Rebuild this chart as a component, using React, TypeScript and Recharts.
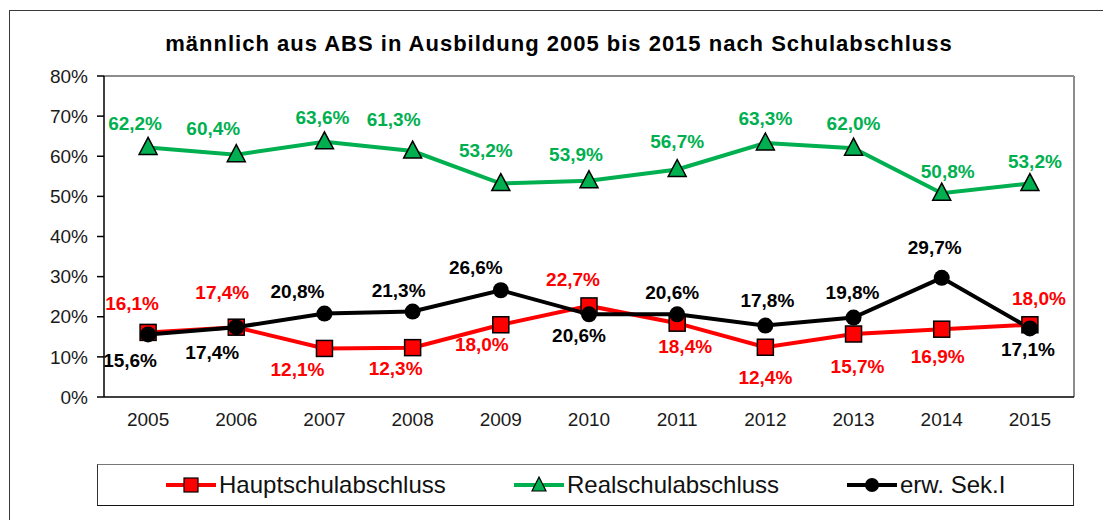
import { LineChart, Line, XAxis, YAxis, ReferenceLine, LabelList } from "recharts";

const YEARS = ["2005", "2006", "2007", "2008", "2009", "2010", "2011", "2012", "2013", "2014", "2015"];
const HAUPT = [16.1, 17.4, 12.1, 12.3, 18.0, 22.7, 18.4, 12.4, 15.7, 16.9, 18.0];
const REAL = [62.2, 60.4, 63.6, 61.3, 53.2, 53.9, 56.7, 63.3, 62.0, 50.8, 53.2];
const ERW = [15.6, 17.4, 20.8, 21.3, 26.6, 20.6, 20.6, 17.8, 19.8, 29.7, 17.1];
const Y_TICKS = [0, 10, 20, 30, 40, 50, 60, 70, 80];

// where each value label sits relative to its marker (dx, dy)
const HAUPT_LABEL_POS = [[-16, -29], [-14, -35], [-27, 21], [-17, 21], [-19, 20], [-16, -26], [8, 23], [0, 30], [4, 32], [-4, 27], [9, -26]];
const REAL_LABEL_POS = [[-13, -24], [-23, -26], [-2, -24], [-19, -32], [-15, -33], [-13, -26], [0, -28], [0, -25], [0, -25], [6, -22], [5, -22]];
const ERW_LABEL_POS = [[-18, 26], [-24, 25], [-27, -22], [-14, -21], [-25, -23], [-10, 21], [-5, -22], [2, -25], [-1, -25], [-7, -30], [-2, 21]];

const RED = "#FF0000";
const GREEN = "#00B050";
const BLACK = "#000000";
const FONT = "'Liberation Sans', Arial, sans-serif";

const INDEX = YEARS.map((_, i) => i);
const BOUNDS = [...INDEX.map((i) => i - 0.5), YEARS.length - 0.5];

const data = YEARS.map((year, i) => ({
  i,
  year,
  haupt: HAUPT[i],
  real: REAL[i],
  erw: ERW[i],
}));

const fmt = (v: number) => `${v.toFixed(1).replace(".", ",")}%`;

const makeLabel = (color: string, pos: number[][]) => (props: any) => {
  const { x, y, value, index } = props;
  const [dx, dy] = pos[index] ?? [0, -24];
  return (
    <text
      x={x + dx}
      y={y + dy}
      textAnchor="middle"
      dominantBaseline="central"
      fill={color}
      fontSize={19}
      fontWeight="bold"
      fontFamily={FONT}
    >
      {fmt(Number(value))}
    </text>
  );
};

const SquareDot = (props: any) => {
  const { cx, cy, index } = props;
  return <rect key={`sq-${index}`} x={cx - 8} y={cy - 8} width={16} height={16} fill={RED} stroke={BLACK} strokeWidth={1.5} />;
};

const TriangleDot = (props: any) => {
  const { cx, cy, index } = props;
  return (
    <polygon
      key={`tr-${index}`}
      points={`${cx},${cy - 10} ${cx + 9},${cy + 7} ${cx - 9},${cy + 7}`}
      fill={GREEN}
      stroke={BLACK}
      strokeWidth={1.5}
    />
  );
};

const CircleDot = (props: any) => {
  const { cx, cy, index } = props;
  return <circle key={`ci-${index}`} cx={cx} cy={cy} r={8} fill={BLACK} />;
};

const LegendItem = ({ left, color, label, marker }: { left: number; color: string; label: string; marker: "square" | "triangle" | "circle" }) => (
  <div style={{ position: "absolute", left, top: 0, height: 40, display: "flex", alignItems: "center" }}>
    <svg width={52} height={24} style={{ display: "block" }}>
      <line x1={1} y1={12} x2={51} y2={12} stroke={color} strokeWidth={4} />
      {marker === "square" && <rect x={19} y={5} width={14} height={14} fill={RED} stroke={BLACK} strokeWidth={1.2} />}
      {marker === "triangle" && <polygon points="26,4 33,18 19,18" fill={GREEN} stroke={BLACK} strokeWidth={1.2} />}
      {marker === "circle" && <circle cx={26} cy={12} r={7} fill={BLACK} />}
    </svg>
    <span style={{ fontSize: 24, color: "#111", marginLeft: 2, whiteSpace: "nowrap" }}>{label}</span>
  </div>
);

export default function App() {
  return (
    <div style={{ position: "fixed", left: 0, top: 0, width: 1103, height: 520, overflow: "hidden", background: "#fff", fontFamily: FONT }}>
      <div style={{ position: "absolute", left: 9, top: 10, width: 1200, height: 600, border: "1.5px solid #3a3a3a" }} />
      <div
        style={{
          position: "absolute",
          left: 0,
          top: 33,
          width: 1118,
          textAlign: "center",
          fontSize: 22,
          lineHeight: "22px",
          letterSpacing: 1,
          fontWeight: "bold",
          color: "#000",
          whiteSpace: "nowrap",
        }}
      >
        männlich aus ABS in Ausbildung 2005 bis 2015 nach Schulabschluss
      </div>
      <div style={{ position: "absolute", left: 0, top: 0 }}>
        <LineChart width={1103} height={520} data={data} margin={{ top: 76, right: 29, left: 0, bottom: 86 }}>
          <XAxis
            xAxisId="bnd"
            type="number"
            dataKey="i"
            domain={[-0.5, YEARS.length - 0.5]}
            ticks={BOUNDS}
            allowDataOverflow
            tick={false}
            tickSize={6}
            height={7}
            axisLine={{ stroke: BLACK, strokeWidth: 1.5 }}
            tickLine={{ stroke: BLACK, strokeWidth: 1.5 }}
          />
          <XAxis
            xAxisId="cat"
            type="number"
            dataKey="i"
            domain={[-0.5, YEARS.length - 0.5]}
            ticks={INDEX}
            allowDataOverflow
            interval={0}
            tickFormatter={(v: number) => YEARS[v] ?? ""}
            axisLine={false}
            tickLine={false}
            tickSize={0}
            tickMargin={9}
            height={30}
            tick={{ fill: "#1a1a1a", fontSize: 19, fontFamily: FONT }}
          />
          <YAxis
            domain={[0, 80]}
            ticks={Y_TICKS}
            interval={0}
            width={104}
            tickFormatter={(v: number) => `${v}%`}
            tickSize={7}
            tickMargin={9}
            axisLine={{ stroke: BLACK, strokeWidth: 1.5 }}
            tickLine={{ stroke: BLACK, strokeWidth: 1.5 }}
            tick={{ fill: "#1a1a1a", fontSize: 19, fontFamily: FONT }}
          />
          <ReferenceLine y={80} xAxisId="bnd" stroke="#8c8c8c" strokeWidth={2} />
          <ReferenceLine x={YEARS.length - 0.5} xAxisId="bnd" stroke="#8c8c8c" strokeWidth={2} />
          <Line xAxisId="bnd" dataKey="real" stroke={GREEN} strokeWidth={4} dot={TriangleDot} activeDot={false} isAnimationActive={false}>
            <LabelList dataKey="real" content={makeLabel(GREEN, REAL_LABEL_POS)} />
          </Line>
          <Line xAxisId="bnd" dataKey="haupt" stroke={RED} strokeWidth={4} dot={SquareDot} activeDot={false} isAnimationActive={false}>
            <LabelList dataKey="haupt" content={makeLabel(RED, HAUPT_LABEL_POS)} />
          </Line>
          <Line xAxisId="bnd" dataKey="erw" stroke={BLACK} strokeWidth={4} dot={CircleDot} activeDot={false} isAnimationActive={false}>
            <LabelList dataKey="erw" content={makeLabel(BLACK, ERW_LABEL_POS)} />
          </Line>
        </LineChart>
      </div>
      <div
        style={{
          position: "absolute",
          left: 97,
          top: 464,
          width: 975,
          height: 40,
          borderTop: "1.5px solid #777",
          borderLeft: "1.5px solid #333",
          borderRight: "1.5px solid #333",
          borderBottom: "1.5px solid #111",
        }}
      >
        <LegendItem left={67} color={RED} label="Hauptschulabschluss" marker="square" />
        <LegendItem left={415} color={GREEN} label="Realschulabschluss" marker="triangle" />
        <LegendItem left={748} color={BLACK} label="erw. Sek.I" marker="circle" />
      </div>
    </div>
  );
}
